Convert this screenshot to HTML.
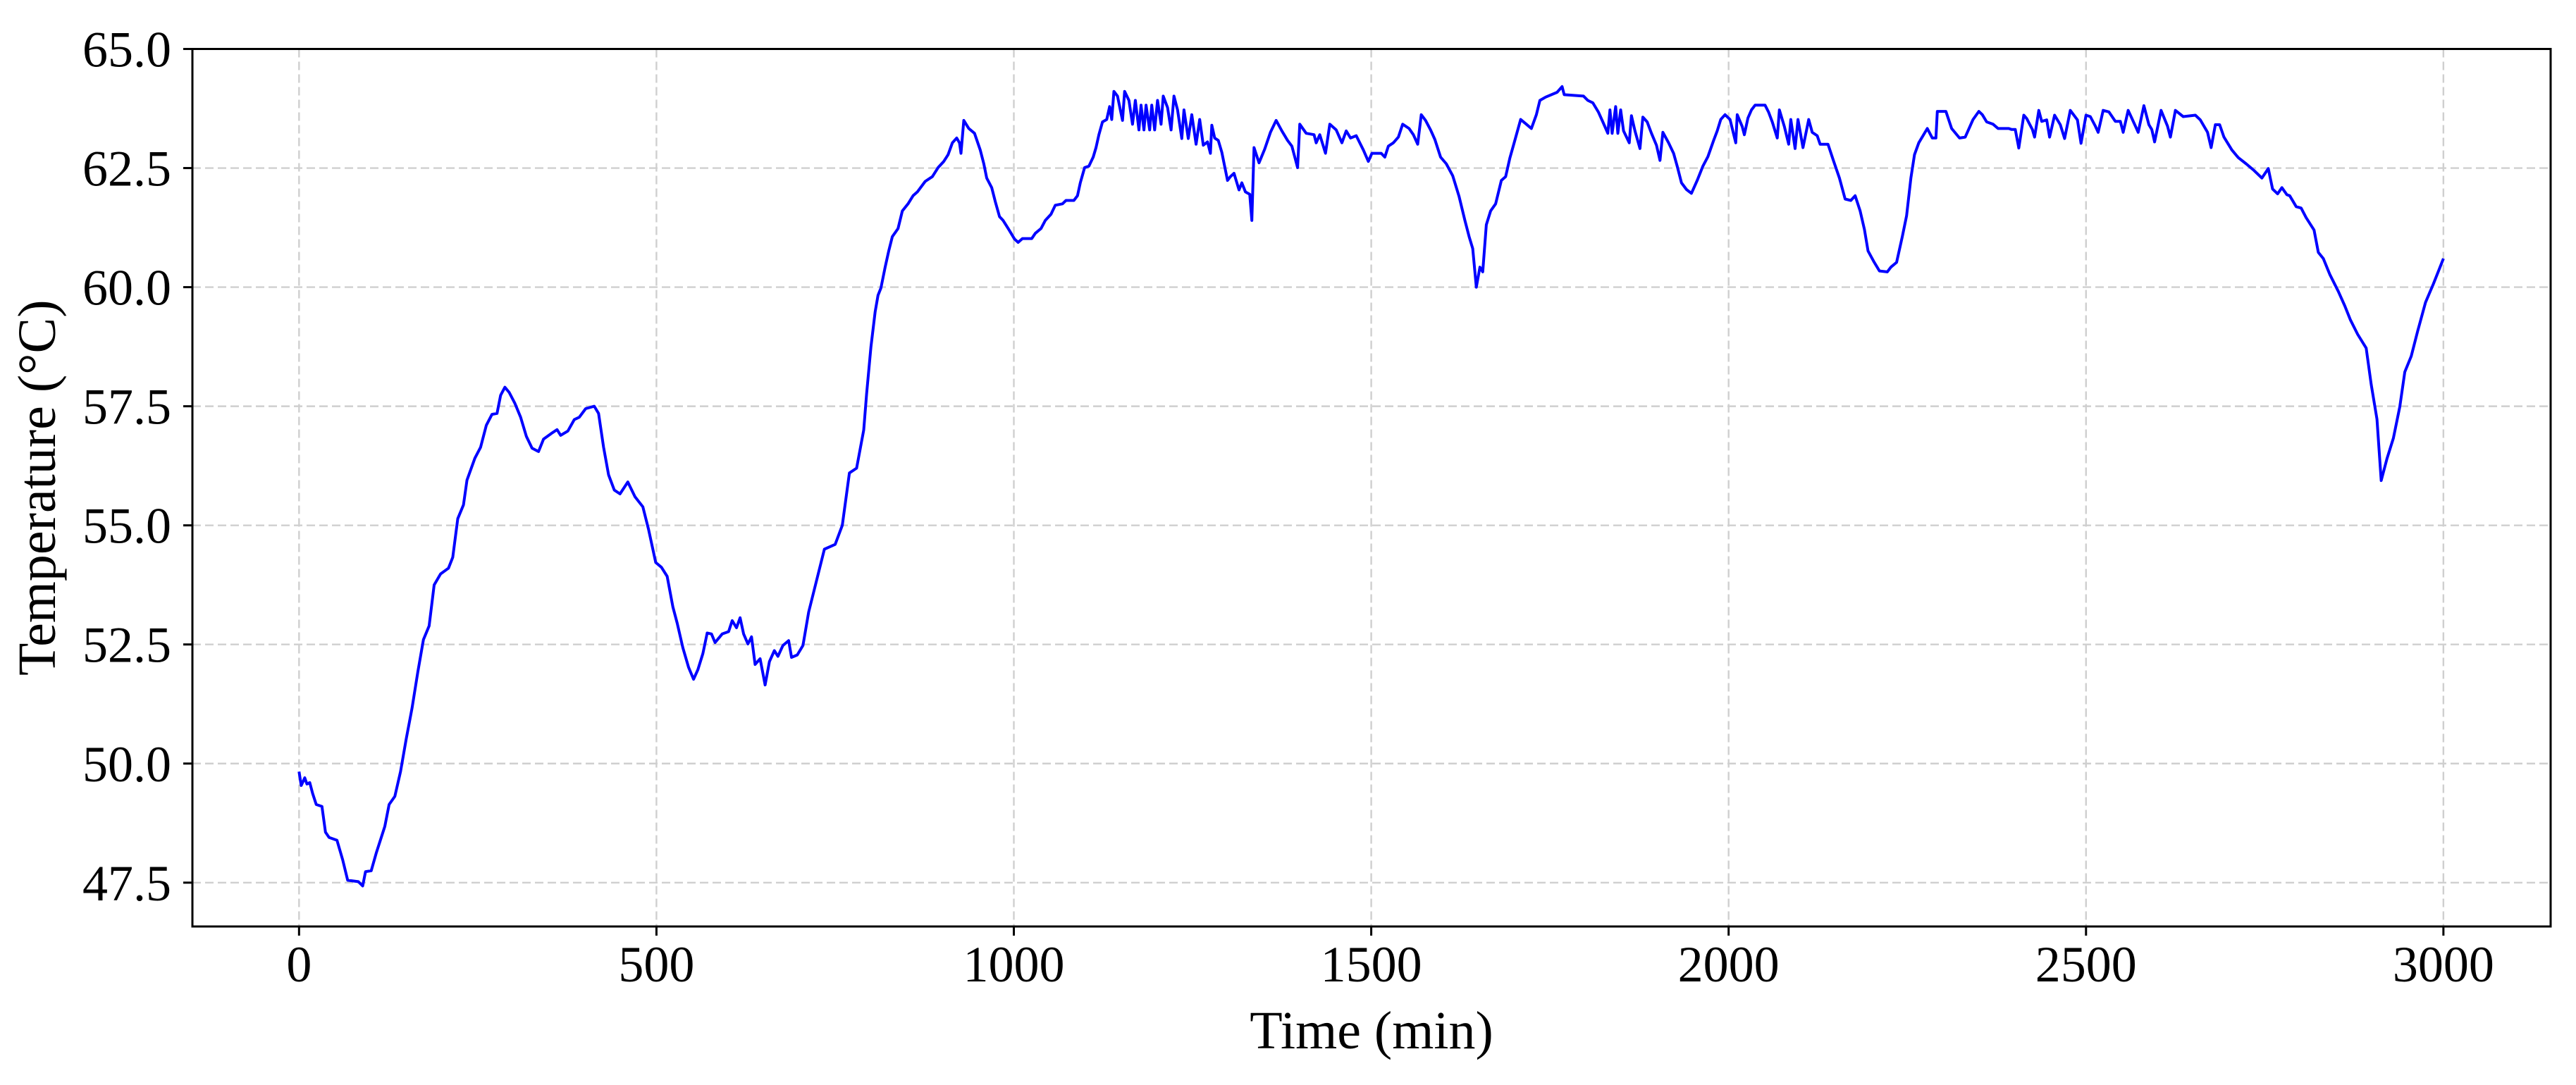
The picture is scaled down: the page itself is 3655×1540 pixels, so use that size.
<!DOCTYPE html>
<html>
<head>
<meta charset="utf-8">
<style>
  html, body { margin: 0; padding: 0; background: #ffffff; }
  body { width: 3655px; height: 1535px; overflow: hidden; }
  svg text { font-family: "Liberation Serif", "DejaVu Serif", serif; fill: #000; }
</style>
</head>
<body>
<svg id="chart" width="3655" height="1535" viewBox="0 0 3655 1535" xmlns="http://www.w3.org/2000/svg">
  <rect x="0" y="0" width="3655" height="1535" fill="#ffffff"/>
  <g id="grid"></g>
  <g id="series"></g>
  <g id="axes"></g>
</svg>
<script>
const xTickValues = [0, 500, 1000, 1500, 2000, 2500, 3000];
const xTickLabels = ["0", "500", "1000", "1500", "2000", "2500", "3000"];
const yTickValues = [47.5, 50.0, 52.5, 55.0, 57.5, 60.0, 62.5, 65.0];
const yTickLabels = ["47.5", "50.0", "52.5", "55.0", "57.5", "60.0", "62.5", "65.0"];

const timeMin = [0,3,8,11,15,19,24,32,37,42,53,61,68,83,89,93,101,108,120,126,134,142,150,158,166,174,182,189,198,209,215,222,230,235,246,254,262,270,277,282,288,294,302,310,318,326,335,342,353,361,366,376,385,392,401,413,419,426,433,441,449,460,470,481,489,499,507,515,523,529,537,545,552,558,565,571,577,582,592,601,606,612,617,622,628,633,638,645,652,658,665,670,677,685,689,697,705,713,720,735,750,760,770,780,790,794,800,806,810,814,820,825,830,838,844,852,859,865,876,886,894,902,908,914,920,924,926,930,937,945,953,958,962,969,974,980,985,993,1001,1006,1012,1025,1030,1038,1044,1052,1058,1068,1073,1084,1089,1093,1099,1105,1111,1115,1119,1124,1130,1134,1137,1140,1145,1149,1152,1155,1161,1166,1170,1175,1178,1182,1185,1190,1193,1197,1201,1206,1209,1215,1220,1224,1229,1235,1238,1244,1249,1255,1260,1265,1271,1275,1277,1281,1286,1291,1299,1303,1308,1315,1319,1324,1330,1333,1336,1343,1351,1359,1367,1375,1383,1389,1397,1400,1409,1420,1423,1428,1436,1442,1451,1459,1465,1471,1479,1489,1496,1501,1514,1519,1524,1531,1538,1544,1553,1559,1565,1570,1576,1583,1589,1597,1605,1614,1623,1631,1637,1642,1647,1652,1656,1661,1667,1674,1682,1688,1694,1700,1709,1717,1724,1731,1736,1744,1760,1767,1770,1797,1803,1810,1818,1824,1831,1834,1837,1842,1845,1849,1853,1861,1864,1869,1876,1880,1886,1892,1899,1904,1908,1916,1923,1928,1934,1941,1948,1956,1964,1971,1979,1984,1989,1995,2002,2010,2012,2019,2022,2027,2032,2037,2051,2056,2061,2068,2071,2078,2084,2087,2093,2097,2104,2112,2117,2124,2128,2139,2147,2155,2163,2171,2177,2184,2190,2195,2203,2211,2222,2227,2235,2243,2249,2255,2260,2266,2272,2278,2285,2290,2292,2304,2312,2323,2331,2342,2350,2355,2361,2370,2377,2392,2396,2401,2406,2413,2417,2425,2428,2434,2438,2445,2449,2456,2464,2470,2478,2488,2493,2500,2506,2513,2517,2524,2532,2541,2548,2552,2559,2563,2570,2573,2581,2588,2592,2596,2605,2614,2618,2625,2636,2653,2660,2670,2675,2681,2687,2693,2704,2713,2724,2735,2746,2755,2761,2768,2774,2781,2785,2794,2801,2808,2819,2825,2832,2841,2853,2862,2870,2880,2892,2899,2907,2913,2921,2930,2939,2946,2955,2964,2975,2986,3000];
const temperature = [49.83,49.54,49.7,49.57,49.6,49.37,49.14,49.1,48.56,48.45,48.39,47.98,47.55,47.52,47.43,47.73,47.75,48.12,48.68,49.14,49.31,49.83,50.52,51.16,51.91,52.6,52.89,53.75,53.98,54.1,54.33,55.14,55.43,55.95,56.41,56.64,57.1,57.33,57.35,57.73,57.9,57.79,57.56,57.27,56.87,56.62,56.55,56.81,56.93,57.01,56.89,56.98,57.22,57.27,57.45,57.5,57.35,56.64,56.06,55.74,55.66,55.91,55.6,55.39,54.91,54.22,54.12,53.93,53.29,52.95,52.43,52.02,51.77,51.97,52.31,52.74,52.72,52.54,52.72,52.77,53.0,52.85,53.06,52.72,52.51,52.66,52.08,52.2,51.65,52.14,52.37,52.25,52.48,52.58,52.23,52.28,52.48,53.18,53.6,54.5,54.6,55.0,56.1,56.2,57.0,57.76,58.74,59.48,59.83,59.98,60.42,60.76,61.06,61.23,61.6,61.75,61.92,62.0,62.22,62.32,62.51,62.64,62.78,63.03,63.13,63.03,62.81,63.5,63.33,63.23,62.88,62.59,62.29,62.09,61.8,61.48,61.4,61.21,61.01,60.94,61.02,61.02,61.13,61.23,61.4,61.53,61.72,61.75,61.82,61.82,61.92,62.19,62.51,62.54,62.73,62.93,63.2,63.47,63.52,63.79,63.52,64.11,64.01,63.72,63.5,64.11,63.92,63.42,63.92,63.3,63.82,63.3,63.82,63.3,63.82,63.3,63.92,63.42,64.01,63.77,63.3,64.01,63.72,63.12,63.72,63.12,63.62,63.0,63.52,62.98,63.05,62.81,63.4,63.13,63.08,62.83,62.24,62.32,62.39,62.04,62.19,62.0,61.95,61.4,62.93,62.61,62.9,63.25,63.5,63.28,63.08,62.96,62.51,63.42,63.23,63.2,63.03,63.2,62.81,63.42,63.3,63.03,63.28,63.13,63.18,62.88,62.64,62.81,62.81,62.73,62.96,63.03,63.15,63.42,63.33,63.2,63.0,63.62,63.5,63.3,63.1,62.73,62.59,62.34,61.9,61.4,61.06,60.81,60.0,60.42,60.32,61.31,61.6,61.75,62.24,62.32,62.71,63.03,63.52,63.42,63.33,63.62,63.92,63.99,64.09,64.21,64.04,64.01,63.92,63.87,63.67,63.47,63.23,63.72,63.23,63.79,63.23,63.72,63.28,63.03,63.6,63.28,62.91,63.57,63.47,63.23,62.98,62.66,63.25,63.03,62.81,62.54,62.19,62.05,61.97,62.24,62.54,62.74,63.08,63.28,63.52,63.62,63.52,63.03,63.62,63.37,63.2,63.55,63.72,63.82,63.82,63.67,63.47,63.13,63.72,63.37,63.0,63.52,62.91,63.52,62.93,63.52,63.25,63.18,63.0,63.0,62.64,62.29,61.85,61.82,61.92,61.6,61.21,60.76,60.54,60.34,60.32,60.42,60.52,61.06,61.5,62.29,62.78,63.03,63.18,63.33,63.13,63.13,63.69,63.69,63.33,63.13,63.15,63.52,63.69,63.62,63.47,63.42,63.33,63.33,63.31,63.31,62.92,63.61,63.54,63.31,63.15,63.71,63.48,63.51,63.15,63.61,63.41,63.12,63.71,63.51,63.02,63.61,63.58,63.38,63.25,63.71,63.68,63.48,63.48,63.25,63.71,63.58,63.35,63.25,63.81,63.41,63.31,63.05,63.71,63.38,63.15,63.71,63.58,63.61,63.51,63.25,62.93,63.41,63.41,63.15,62.88,62.72,62.59,62.45,62.29,62.49,62.06,61.96,62.09,61.94,61.92,61.69,61.66,61.46,61.2,60.73,60.6,60.27,59.91,59.61,59.31,59.01,58.72,57.96,57.23,55.94,56.4,56.83,57.49,58.22,58.55,59.08,59.68,60.07,60.6,61.13];

const SVGNS = "http://www.w3.org/2000/svg";
const plot = { left: 273, right: 3619, top: 69.5, bottom: 1315 };
const xDomain = [-149.2, 3150];
const yDomain = [46.58, 65.0];
function xScale(v) { return plot.left + (v - xDomain[0]) / (xDomain[1] - xDomain[0]) * (plot.right - plot.left); }
function yScale(v) { return plot.bottom - (v - yDomain[0]) / (yDomain[1] - yDomain[0]) * (plot.bottom - plot.top); }
function mk(tag, attrs, parent) {
  const el = document.createElementNS(SVGNS, tag);
  for (const k in attrs) el.setAttribute(k, attrs[k]);
  parent.appendChild(el);
  return el;
}
const gGrid = document.getElementById('grid');
const gSeries = document.getElementById('series');
const gAxes = document.getElementById('axes');

xTickValues.forEach((v, i) => {
  const x = xScale(v);
  const gl = mk('line', { x1: x, y1: plot.top, x2: x, y2: plot.bottom, stroke: '#cfcfcf', 'stroke-width': 2.4, 'stroke-dasharray': '12,6' }, gGrid);
  
  
  const tk = mk('line', { x1: x, y1: plot.bottom, x2: x, y2: plot.bottom + 13, stroke: '#000', 'stroke-width': 3 }, gAxes);
  
  
  const tx = mk('text', { x: x, y: 1393, 'font-size': 72, 'text-anchor': 'middle' }, gAxes);
  
  
  tx.textContent = xTickLabels[i];
});
yTickValues.forEach((v, i) => {
  const y = yScale(v);
  const gl = mk('line', { x1: plot.left, y1: y, x2: plot.right, y2: y, stroke: '#cfcfcf', 'stroke-width': 2.4, 'stroke-dasharray': '12,6' }, gGrid);
  
  
  const tk = mk('line', { x1: plot.left - 13, y1: y, x2: plot.left, y2: y, stroke: '#000', 'stroke-width': 3 }, gAxes);
  
  
  const tx = mk('text', { x: 243, y: y + 25, 'font-size': 72, 'text-anchor': 'end' }, gAxes);
  
  
  tx.textContent = yTickLabels[i];
});

let d = '';
timeMin.forEach((t, i) => { d += (i ? 'L' : 'M') + xScale(t).toFixed(1) + ',' + yScale(temperature[i]).toFixed(1); });
const line = mk('path', { d: d, fill: 'none', stroke: '#0000ff', 'stroke-width': 4, 'stroke-linejoin': 'round' }, gSeries);



const frame = mk('rect', { x: plot.left, y: plot.top, width: plot.right - plot.left, height: plot.bottom - plot.top, fill: 'none', stroke: '#000', 'stroke-width': 3 }, gAxes);



const xl = mk('text', { x: (plot.left + plot.right) / 2, y: 1488, 'font-size': 76, 'text-anchor': 'middle' }, gAxes);


xl.textContent = 'Time (min)';
const yl = mk('text', { x: 0, y: 0, 'font-size': 76, 'text-anchor': 'middle', transform: 'translate(78,' + ((plot.top + plot.bottom) / 2) + ') rotate(-90)' }, gAxes);


yl.textContent = 'Temperature (°C)';
</script>
</body>
</html>
